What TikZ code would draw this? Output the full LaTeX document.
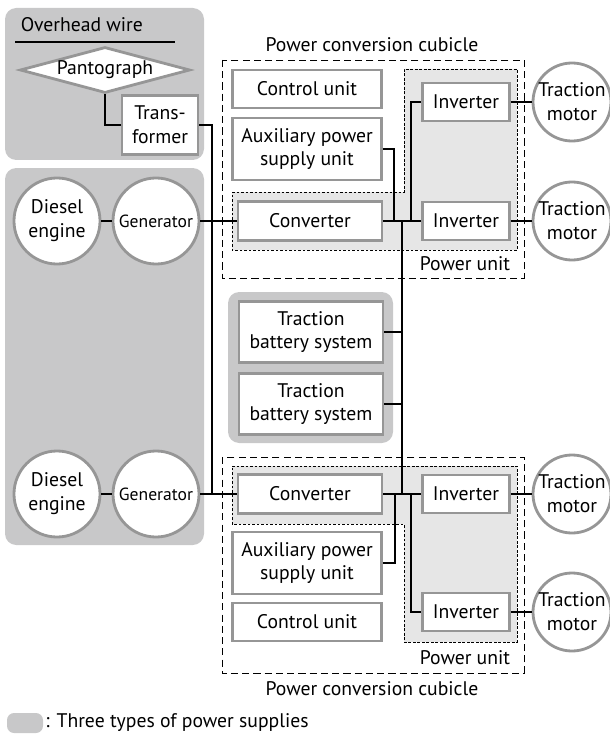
\documentclass[tikz,border=0pt]{standalone}
\usepackage{fontspec}
\setmainfont{PT Sans}
\usepackage{tikz}
\usetikzlibrary{calc,positioning,shapes,backgrounds}
\definecolor{panelgray}{RGB}{200,200,201}
\definecolor{boxgray}{RGB}{150,150,150}
\definecolor{unitgray}{RGB}{230,230,230}
\tikzset{
	unit/.style={draw=boxgray,fill=white,line width=2pt,align=center,inner sep=0pt},
	wide/.style={unit,minimum width=3.72cm,minimum height=0.95cm},
	tall/.style={unit,minimum width=3.72cm,minimum height=1.55cm},
	conv/.style={unit,minimum width=3.6cm,minimum height=0.97cm},
	batt/.style={unit,minimum width=3.6cm,minimum height=1.52cm},
	inv/.style={unit,minimum width=2.17cm,minimum height=0.95cm},
	round/.style={unit,circle,minimum size=2.15cm},
	motor/.style={unit,circle,minimum size=1.95cm},
	wire/.style={line width=1.4pt},
	cubicle/.style={dash pattern=on 5pt off 3pt,line width=0.7pt},
	punit/.style={fill=unitgray,dash pattern=on 1.8pt off 1.4pt,line width=0.5pt},
}
\begin{document}
\begin{tikzpicture}[x=0.025cm,y=-0.025cm,font=\fontsize{14}{17}\selectfont]
	\useasboundingbox (0,0) rectangle (610,735);
	\node(ow) [anchor=west] at (16,25) {Overhead wire};
	\node(panto) [unit,diamond,minimum width=4.25cm,minimum height=1.15cm,aspect=4] at (105,70) {Pantograph};
	\node(trafo) [unit,minimum width=1.9cm,minimum height=1.47cm] at (160,125) {Trans-\\former};
	\node(eng1) [round] at (57,221) {Diesel\\engine};
	\node(gen1) [round,font=\fontsize{12.5}{15}\selectfont] at (156,221) {Generator};
	\node(eng2) [round] at (57,494) {Diesel\\engine};
	\node(gen2) [round,font=\fontsize{12.5}{15}\selectfont] at (156,494) {Generator};
	\node(ctrl1) [wide] at (307,89) {Control unit};
	\node(aux1) [tall] at (307,149) {Auxiliary power\\supply unit};
	\node(conv1) [conv] at (310,221) {Converter};
	\node(inv1a) [inv] at (466,102) {Inverter};
	\node(inv1b) [inv] at (466,221) {Inverter};
	\node(mot1a) [motor] at (572,102) {Traction\\motor};
	\node(mot1b) [motor] at (572,221) {Traction\\motor};
	\node(bat1) [batt] at (311,332) {Traction\\battery system};
	\node(bat2) [batt] at (311,404) {Traction\\battery system};
	\node(conv2) [conv] at (310,494) {Converter};
	\node(aux2) [tall] at (307,563) {Auxiliary power\\supply unit};
	\node(ctrl2) [wide] at (307,622) {Control unit};
	\node(inv2a) [inv] at (466,494) {Inverter};
	\node(inv2b) [inv] at (466,612) {Inverter};
	\node(mot2a) [motor] at (572,494) {Traction\\motor};
	\node(mot2b) [motor] at (572,612) {Traction\\motor};
	\node(cub1) at (372,45) {Power conversion cubicle};
	\node(cub2) at (372,689) {Power conversion cubicle};
	\node(pu1) [anchor=east] at (515,264) {Power unit};
	\node(pu2) [anchor=east] at (515,658) {Power unit};
	\node(key) [anchor=west,inner sep=0pt] at (45,723) {: Three types of power supplies};
	\coordinate(feed) at (212,494);
	\coordinate(busT) at (402,221);
	\coordinate(busB) at (402,494);
	\draw[line width=0.8pt] (15,42) -- (175,42);
	\draw[wire] (panto.south) |- (trafo.west);
	\draw[wire] (trafo.east) -| (feed);
	\draw[wire] (eng1) -- (gen1);
	\draw[wire] (gen1) -- (conv1);
	\draw[wire] (eng2) -- (gen2);
	\draw[wire] (gen2) -- (conv2);
	\draw[wire] (conv1) -- (inv1b);
	\draw[wire] (aux1.east) -| ($(conv1.east)+(11,0)$);
	\draw[wire] ($(inv1b.west)+(-10,0)$) |- (inv1a.west);
	\draw[wire] (inv1a) -- (mot1a);
	\draw[wire] (inv1b) -- (mot1b);
	\draw[wire] (busT) -- (busB);
	\draw[wire] (bat1.east) -- (bat1.east -| busT);
	\draw[wire] (bat2.east) -- (bat2.east -| busT);
	\draw[wire] (conv2) -- (inv2a);
	\draw[wire] (aux2.east) -| ($(conv2.east)+(12,0)$);
	\draw[wire] ($(inv2a.west)+(-10,0)$) |- (inv2b.west);
	\draw[wire] (inv2a) -- (mot2a);
	\draw[wire] (inv2b) -- (mot2b);
	\begin{scope}[on background layer]
		\fill[panelgray,rounded corners=8] (5,8) rectangle (204,160);
		\fill[panelgray,rounded corners=8] (5,168) rectangle (204,545);
		\fill[panelgray,rounded corners=8] (228,292) rectangle (393,443);
		\fill[panelgray,rounded corners=5] (7,713) rectangle (43,733);
		\draw[punit] (232,192) -- (404,192) -- (404,69) -- (517,69) -- (517,250) -- (232,250) -- cycle;
		\draw[punit] (232,466) -- (517,466) -- (517,642) -- (404,642) -- (404,524) -- (232,524) -- cycle;
		\draw[cubicle] (222,60) rectangle (524,278);
		\draw[cubicle] (222,457) rectangle (524,673);
	\end{scope}
\end{tikzpicture}
\end{document}
